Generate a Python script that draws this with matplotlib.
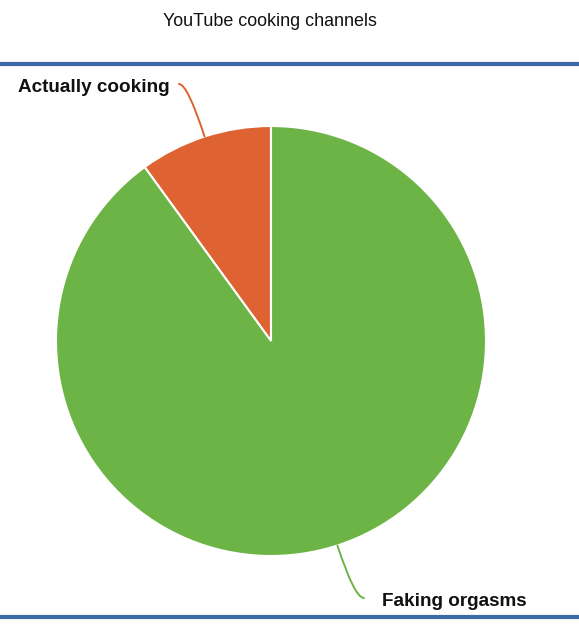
import numpy as np
import matplotlib.pyplot as plt

labels = ['Actually cooking', 'Faking orgasms']
values = [10, 90]
colors = ['#df6332', '#6db447']
title = 'YouTube cooking channels'

W, H = 579, 640
fig = plt.figure(figsize=(W / 100, H / 100), dpi=100)
ax = fig.add_axes([0, 0, 1, 1])

cx, cy, r = 271, H - 341, 215
wedges, _ = ax.pie(values, colors=colors, startangle=90, counterclock=True,
                   center=(cx, cy), radius=r, frame=True,
                   wedgeprops=dict(edgecolor='white', linewidth=1.5))
ax.set_xlim(0, W)
ax.set_ylim(0, H)
ax.set_aspect('equal')
ax.axis('off')

# header / footer rules
ax.plot([0, W], [H - 64, H - 64], color='#3b6aa6', lw=3, solid_capstyle='butt')
ax.plot([0, W], [H - 617, H - 617], color='#3b6aa6', lw=3, solid_capstyle='butt')

ax.text(270, H - 22, title, ha='center', va='center', fontsize=12.9,
        family='Liberation Sans', color='#111111')

# labels with curved leader lines
lab_pos = [(170, H - 87, 'right', (179, H - 84)), (382, H - 602, 'left', (364, H - 598))]
for w, lab, col, (tx, ty, ha, end) in zip(wedges, labels, colors, lab_pos):
    mid = np.deg2rad((w.theta1 + w.theta2) / 2)
    xy = (cx + r * np.cos(mid), cy + r * np.sin(mid))
    angB = np.rad2deg(mid)
    ax.annotate('', xy=xy, xytext=end,
                arrowprops=dict(arrowstyle='-', color=col, lw=1.4,
                                shrinkA=0, shrinkB=0,
                                connectionstyle=f'angle3,angleA=0,angleB={angB:.0f}'))
    ax.text(tx, ty, lab, ha=ha, va='center', fontsize=13.6, fontweight='bold',
            family='Liberation Sans', color='#111111')

fig.savefig('out.png', dpi=100)
